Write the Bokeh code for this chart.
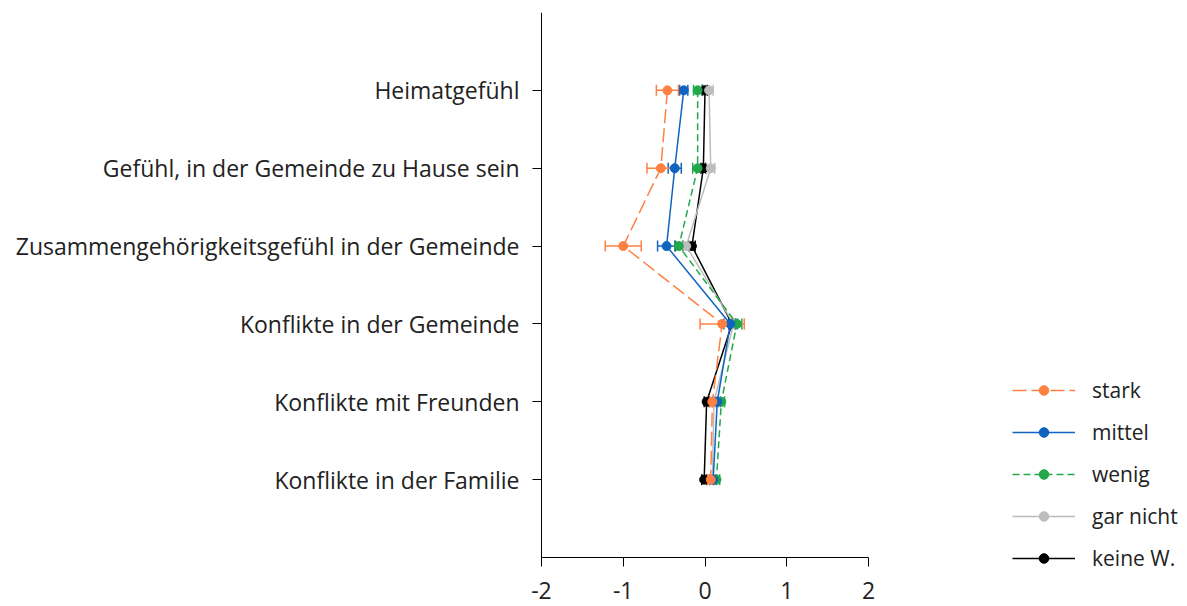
from bokeh.plotting import figure
from bokeh.models import (ColumnDataSource, Whisker, TeeHead, Legend, LegendItem,
                          Range1d, FixedTicker)
from bokeh.embed import file_html
from bokeh.resources import INLINE

categories = ["Heimatgefühl",
              "Gefühl, in der Gemeinde zu Hause sein",
              "Zusammengehörigkeitsgefühl in der Gemeinde",
              "Konflikte in der Gemeinde",
              "Konflikte mit Freunden",
              "Konflikte in der Familie"]

series_names = ["stark", "mittel", "wenig", "gar nicht", "keine W."]

stark_mean = [-0.46, -0.54, -1.00, 0.21, 0.09, 0.07]
stark_err = [0.135, 0.17, 0.22, 0.27, 0.04, 0.04]
mittel_mean = [-0.26, -0.37, -0.47, 0.31, 0.15, 0.10]
mittel_err = [0.05, 0.08, 0.11, 0.08, 0.04, 0.04]
wenig_mean = [-0.09, -0.09, -0.32, 0.39, 0.20, 0.14]
wenig_err = [0.05, 0.06, 0.05, 0.06, 0.04, 0.04]
garnicht_mean = [0.05, 0.07, -0.23, 0.35, 0.11, 0.09]
garnicht_err = [0.05, 0.05, 0.04, 0.05, 0.04, 0.04]
keine_mean = [0.00, -0.02, -0.16, 0.33, 0.02, -0.01]
keine_err = [0.03, 0.03, 0.04, 0.04, 0.03, 0.03]

x_ticks = [-2, -1, 0, 1, 2]
x_tick_labels = ["-2", "-1", "0", "1", "2"]

colors = {"stark": "#ff8040", "mittel": "#0f64c0", "wenig": "#22a84a",
          "gar nicht": "#bdbdbd", "keine W.": "#000000"}
dashes = {"stark": "14 5", "mittel": "solid", "wenig": "7 4",
          "gar nicht": "solid", "keine W.": "solid"}
data = {"stark": (stark_mean, stark_err), "mittel": (mittel_mean, mittel_err),
        "wenig": (wenig_mean, wenig_err), "gar nicht": (garnicht_mean, garnicht_err),
        "keine W.": (keine_mean, keine_err)}

n = len(categories)
ypos = list(range(1, n + 1))

# layout geometry (pixels)
W, H = 1187, 606
TOP, BOTTOM = 12, 2
AXIS_X0 = 541         # pixel x of the y axis
AXIS_W = 327          # pixel length of the x axis (-2..2)
AXIS_H = 545          # pixel length of the y axis (0..n+1)
frame_w = W
frame_h = H - TOP - BOTTOM
x_lo, x_hi = x_ticks[0], x_ticks[-1]
px_per_unit = AXIS_W / (x_hi - x_lo)
x_start = x_lo - AXIS_X0 / px_per_unit
x_end = x_start + frame_w / px_per_unit
y_end = (n + 1) * frame_h / AXIS_H

p = figure(width=W, height=H, output_backend="svg", toolbar_location=None,
           x_range=Range1d(x_start, x_end), y_range=Range1d(y_end, 0),
           min_border_left=0, min_border_top=TOP, min_border_bottom=BOTTOM,
           min_border_right=0)
p.outline_line_color = None
p.xgrid.visible = False
p.ygrid.visible = False

FONT = "Open Sans"
for ax in (p.xaxis[0], p.yaxis[0]):
    ax.major_label_text_font = FONT
    ax.major_label_text_font_size = "23px"
    ax.major_label_text_color = "#222222"
    ax.axis_line_color = "black"
    ax.major_tick_line_color = "black"
    ax.minor_tick_line_color = None
    ax.major_tick_in = 0
    ax.major_tick_out = 9

p.xaxis.ticker = FixedTicker(ticks=x_ticks)
p.xaxis.major_label_overrides = {t: l for t, l in zip(x_ticks, x_tick_labels)}
p.xaxis.major_label_standoff = 15
p.xaxis.bounds = (x_lo, x_hi)
p.xaxis.fixed_location = n + 1
p.yaxis.ticker = FixedTicker(ticks=ypos)
p.yaxis.major_label_overrides = {y: c for y, c in zip(ypos, categories)}
p.yaxis.major_label_standoff = 13
p.yaxis.bounds = (0, n + 1)
p.yaxis.fixed_location = x_lo

renderers = {}
draw_order = ["keine W.", "gar nicht", "wenig", "mittel", "stark"]
for name in draw_order:
    mean, err = data[name]
    src = ColumnDataSource(dict(
        x=mean, y=ypos,
        lo=[m - e for m, e in zip(mean, err)],
        hi=[m + e for m, e in zip(mean, err)]))
    c = colors[name]
    ln = p.line("x", "y", source=src, line_color=c, line_width=1.5,
                line_dash=dashes[name])
    w = Whisker(source=src, base="y", lower="lo", upper="hi", dimension="width",
                line_color=c, line_width=1.5,
                upper_head=TeeHead(size=11, line_color=c, line_width=1.5),
                lower_head=TeeHead(size=11, line_color=c, line_width=1.5))
    p.add_layout(w)
    sc = p.scatter("x", "y", source=src, size=9, fill_color=c, line_color=c)
    renderers[name] = [ln, sc]

items = [LegendItem(label=nm, renderers=renderers[nm]) for nm in series_names]
legend = Legend(items=items, location=(1012, frame_h - (557 - TOP) - 15),
                padding=0, margin=0,
                spacing=14, glyph_width=63, glyph_height=24, label_height=24,
                label_standoff=17, label_text_font=FONT,
                label_text_font_size="21px", label_text_color="#222222",
                border_line_color=None, background_fill_alpha=0)
p.add_layout(legend, "center")

open("out.html", "w").write(file_html(p, INLINE))
